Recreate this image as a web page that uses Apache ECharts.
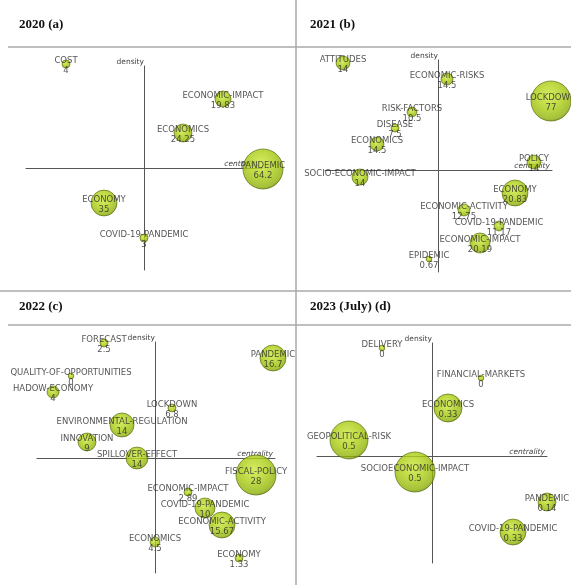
<!DOCTYPE html>
<html>
<head>
<meta charset="utf-8">
<script src="https://cdn.jsdelivr.net/npm/echarts@6/dist/echarts.min.js"></script>
<style>
html,body{margin:0;padding:0;background:#fff;}
#chart{width:571px;height:585px;}
</style>
</head>
<body>
<div id="chart"></div>
<script>
// ---- Panel titles ----
const panelTitles = ['2020 (a)', '2021 (b)', '2022 (c)', '2023 (July) (d)'];

// ---- 2020 (a) ----
const themesA     = ['COST', 'ECONOMIC-IMPACT', 'ECONOMICS', 'PANDEMIC', 'ECONOMY', 'COVID-19-PANDEMIC'];
const centralityA = [-7.8, 7.9, 3.9, 11.9, -4.0, 0.0];
const densityA    = [10.4, 6.9, 3.5, -0.1, -3.5, -7.0];
const docsA       = [4, 16, 20, 100, 42, 4];
const valuesA     = ['4', '19.83', '24.25', '64.2', '35', '3'];

// ---- 2021 (b) ----
const themesB     = ['ATTITUDES', 'ECONOMIC-RISKS', 'LOCKDOWN', 'RISK-FACTORS', 'DISEASE', 'ECONOMICS',
                     'SOCIO-ECONOMIC-IMPACT', 'POLICY', 'ECONOMY', 'ECONOMIC-ACTIVITY', 'COVID-19-PANDEMIC',
                     'ECONOMIC-IMPACT', 'EPIDEMIC'];
const centralityB = [-9.5, 0.9, 11.3, -2.6, -4.3, -6.1, -7.8, 9.6, 7.7, 2.6, 6.1, 4.2, -0.9];
const densityB    = [10.7, 9.1, 6.9, 5.8, 4.2, 2.6, -0.7, 0.8, -2.3, -4.0, -5.6, -7.3, -8.9];
const docsB       = [12, 9, 100, 6, 4, 12, 16, 12, 42, 9, 6, 25, 2];
const valuesB     = ['14', '14.5', '77', '10.5', '7.5', '14.5', '14', '14', '20.83', '12.75', '11.17', '20.19', '0.67'];

// ---- 2022 (c) ----
const themesC     = ['FORECAST', 'QUALITY-OF-OPPORTUNITIES', 'HADOW-ECONOMY', 'LOCKDOWN', 'ENVIRONMENTAL-REGULATION',
                     'INNOVATION', 'SPILLOVER-EFFECT', 'PANDEMIC', 'FISCAL-POLICY', 'ECONOMIC-IMPACT',
                     'COVID-19-PANDEMIC', 'ECONOMIC-ACTIVITY', 'ECONOMICS', 'ECONOMY'];
const centralityC = [-5.1, -8.4, -10.2, 1.7, -3.3, -6.8, -1.8, 11.8, 10.1, 3.3, 5.0, 6.7, 0.0, 8.4];
const densityC    = [11.5, 8.2, 6.6, 5.0, 3.3, 1.6, 0.0, 10.0, -1.7, -3.4, -5.0, -6.7, -8.4, -10.0];
const docsC       = [4, 2, 9, 4, 36, 20, 30, 42, 100, 4, 25, 42, 6, 4];
const valuesC     = ['2.5', '0', '4', '6.8', '14', '9', '14', '16.7', '28', '2.89', '10', '15.67', '4.5', '1.33'];

// ---- 2023 (July) (d) ----
const themesD     = ['DELIVERY', 'FINANCIAL-MARKETS', 'ECONOMICS', 'GEOPOLITICAL-RISK', 'SOCIOECONOMIC-IMPACT',
                     'PANDEMIC', 'COVID-19-PANDEMIC'];
const centralityD = [-5.0, 4.9, 1.6, -8.3, -1.7, 11.5, 8.1];
const densityD    = [10.8, 7.8, 4.8, 1.6, -1.6, -4.6, -7.6];
const docsD       = [2, 2, 49, 90, 100, 20, 42];
const valuesD     = ['0', '0', '0.33', '0.5', '0.5', '0.14', '0.33'];

const axisNames = { x: 'centrality', y: 'density' };

// ---- layout (pixels) ----
const panels = [
  { themes: themesA, cx: centralityA, dy: densityA, docs: docsA, vals: valuesA,
    grid: { left: 26, top: 66, width: 236, height: 204 }, x: [-11.8, 11.8], y: [-10.2, 10.2] },
  { themes: themesB, cx: centralityB, dy: densityB, docs: docsB, vals: valuesB,
    grid: { left: 325, top: 60, width: 227, height: 212 }, x: [-11.3, 11.4], y: [-10.2, 11.0] },
  { themes: themesC, cx: centralityC, dy: densityC, docs: docsC, vals: valuesC,
    grid: { left: 37, top: 342, width: 238, height: 231 }, x: [-11.8, 12.0], y: [-11.5, 11.6] },
  { themes: themesD, cx: centralityD, dy: densityD, docs: docsD, vals: valuesD,
    grid: { left: 317, top: 343, width: 230, height: 220 }, x: [-11.5, 11.5], y: [-10.7, 11.3] }
];
const titlePos = [{ left: 14, top: 13 }, { left: 305, top: 13 }, { left: 14, top: 295 }, { left: 305, top: 295 }];

const bubbleColor = {
  type: 'radial', x: 0.45, y: 0.38, r: 0.66,
  colorStops: [
    { offset: 0, color: '#cde83c' },
    { offset: 0.5, color: '#aacd12' },
    { offset: 0.85, color: '#8fb10a' },
    { offset: 1, color: '#5d7804' }
  ]
};

const option = {
  animation: false,
  backgroundColor: '#ffffff',
  title: panelTitles.map((t, i) => ({
    text: t, left: titlePos[i].left, top: titlePos[i].top,
    textStyle: { fontFamily: 'Liberation Serif', fontWeight: 'bold', fontSize: 13, color: '#111' }
  })),
  grid: panels.map(p => Object.assign({ containLabel: false }, p.grid)),
  xAxis: panels.map((p, i) => ({
    type: 'value', gridIndex: i, min: p.x[0], max: p.x[1],
    name: axisNames.x, nameLocation: 'end', nameGap: -2,
    nameTextStyle: { align: 'right', verticalAlign: 'bottom', fontSize: 7.5, fontStyle: 'italic',
                     color: '#444', fontFamily: 'DejaVu Sans' },
    axisLine: { onZero: true, lineStyle: { color: '#555', width: 1 } },
    axisTick: { show: false }, axisLabel: { show: false }, splitLine: { show: false }
  })),
  yAxis: panels.map((p, i) => ({
    type: 'value', gridIndex: i, min: p.y[0], max: p.y[1],
    name: axisNames.y, nameLocation: 'end', nameGap: 0,
    nameTextStyle: { align: 'right', verticalAlign: 'bottom', fontSize: 7.5,
                     color: '#444', fontFamily: 'DejaVu Sans' },
    axisLine: { onZero: true, lineStyle: { color: '#555', width: 1 } },
    axisTick: { show: false }, axisLabel: { show: false }, splitLine: { show: false }
  })),
  series: panels.map((p, i) => ({
    type: 'scatter', xAxisIndex: i, yAxisIndex: i, clip: false,
    data: p.themes.map((n, k) => ({ name: n, value: [p.cx[k], p.dy[k], p.docs[k], p.vals[k]] })),
    symbolSize: v => 4 * Math.sqrt(v[2]),
    itemStyle: { color: bubbleColor, borderColor: '#4f6404', borderWidth: 0.8 },
    label: {
      show: true, position: 'inside', offset: [0, 2],
      formatter: d => d.name + '\n' + d.value[3],
      fontFamily: 'DejaVu Sans', fontSize: 8.5, lineHeight: 9.5, color: '#2a2a2a'
    }
  })),
  graphic: [
    { type: 'line', shape: { x1: 296, y1: 0, x2: 296, y2: 585 }, style: { stroke: '#aaa', lineWidth: 1.5 } },
    { type: 'line', shape: { x1: 0, y1: 291, x2: 571, y2: 291 }, style: { stroke: '#aaa', lineWidth: 1.5 } },
    { type: 'line', shape: { x1: 8, y1: 47, x2: 571, y2: 47 }, style: { stroke: '#aaa', lineWidth: 1.5 } },
    { type: 'line', shape: { x1: 8, y1: 325, x2: 571, y2: 325 }, style: { stroke: '#aaa', lineWidth: 1.5 } }
  ]
};

const chart = echarts.init(document.getElementById('chart'), null, { renderer: 'canvas' });
chart.setOption(option);
</script>
</body>
</html>
